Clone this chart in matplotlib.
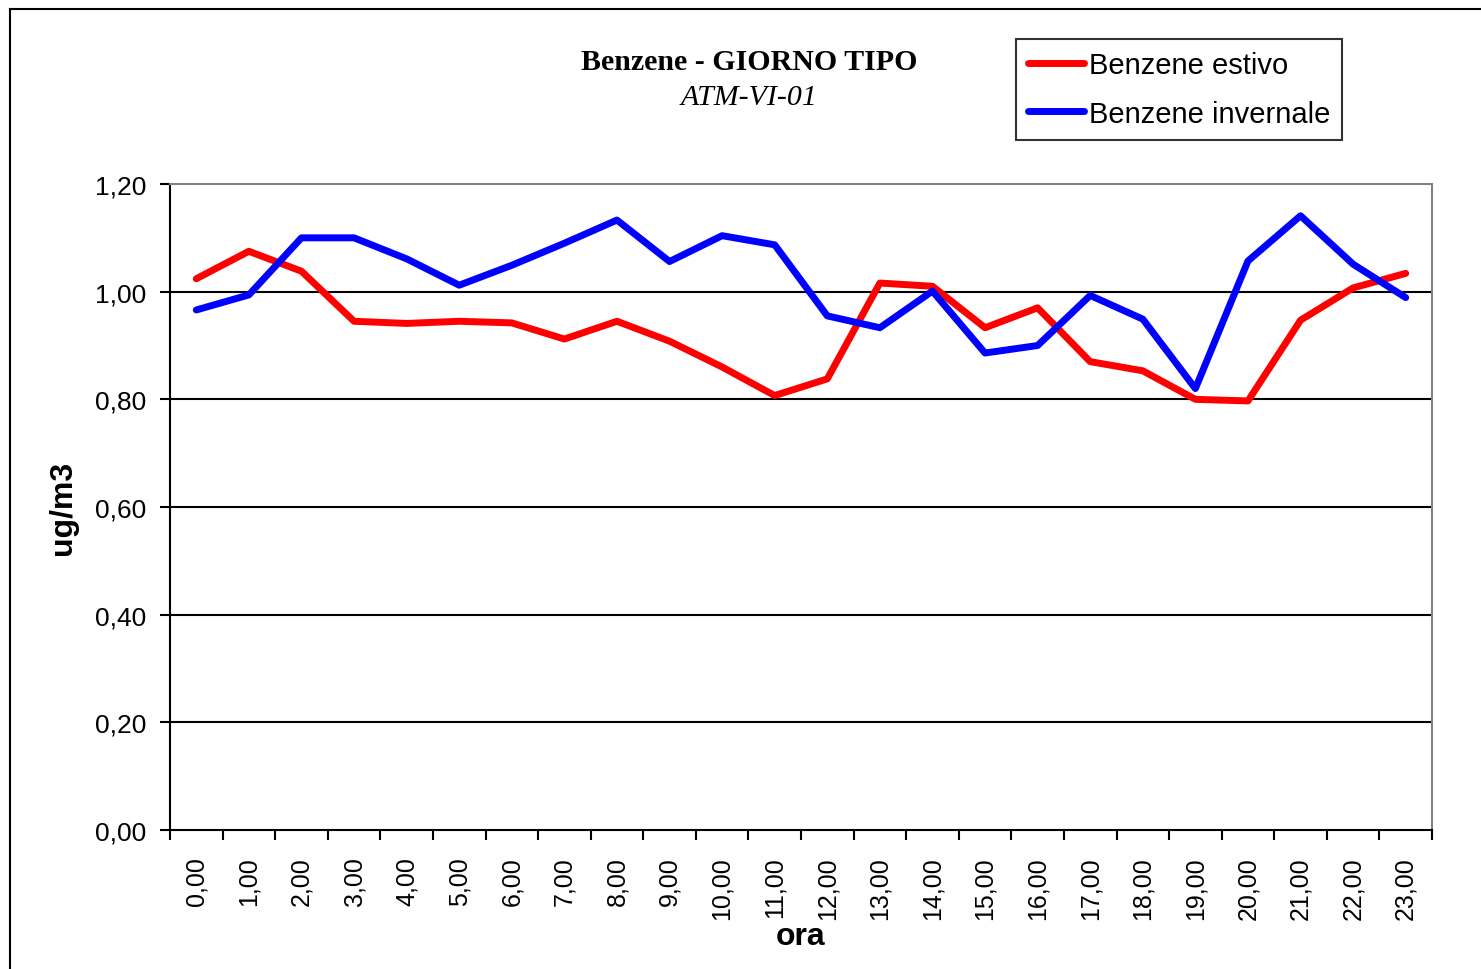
import matplotlib.pyplot as plt
from matplotlib.lines import Line2D
import numpy as np

# ore del giorno tipo
hours = list(range(24))
hour_labels = [f"{h},00" for h in hours]

benzene_estivo = [1.024, 1.075, 1.038, 0.945, 0.941, 0.945, 0.942, 0.912, 0.945, 0.908,
                  0.860, 0.807, 0.838, 1.016, 1.010, 0.933, 0.970, 0.870, 0.853, 0.800,
                  0.797, 0.947, 1.007, 1.034]
benzene_invernale = [0.966, 0.994, 1.100, 1.100, 1.061, 1.012, 1.049, 1.090, 1.133, 1.056,
                     1.104, 1.087, 0.955, 0.933, 1.001, 0.886, 0.900, 0.993, 0.949, 0.820,
                     1.057, 1.141, 1.051, 0.989]

y_ticks = [0.0, 0.2, 0.4, 0.6, 0.8, 1.0, 1.2]

plt.rcParams['font.family'] = ['Liberation Sans', 'DejaVu Sans']

fig = plt.figure(figsize=(14.81, 9.70), dpi=100)
ax = fig.add_axes([170 / 1481, 1 - 831 / 970, (1432 - 170) / 1481, (831 - 185) / 970])

x = np.arange(len(hours))
ax.plot(x, benzene_estivo, color='#ff0000', lw=5, label='Benzene estivo', solid_capstyle='round')
ax.plot(x, benzene_invernale, color='#0000ff', lw=5, label='Benzene invernale', solid_capstyle='round')

ax.set_xlim(-0.5, 23.5)
ax.set_ylim(0, 1.2)
ax.set_yticks(y_ticks)
ax.set_yticklabels([f"{v:.2f}".replace('.', ',') for v in y_ticks], fontsize=19)
ax.set_xticks(x)
ax.set_xticklabels(hour_labels, rotation=90, fontsize=18)
ax.set_xticks(np.arange(-0.5, 24, 1), minor=True)
ax.tick_params(axis='x', which='major', length=0, pad=19)
ax.tick_params(axis='x', which='minor', length=7, width=1.5, direction='out')
ax.tick_params(axis='y', length=7, width=1.5, direction='out', pad=10)

for v in y_ticks[1:-1]:
    ax.axhline(v, color='black', lw=1.5, zorder=1)

ax.spines['left'].set_linewidth(1.5)
ax.spines['bottom'].set_linewidth(1.5)
ax.spines['top'].set_color('#808080')
ax.spines['right'].set_color('#808080')
ax.spines['top'].set_linewidth(1.5)
ax.spines['right'].set_linewidth(1.5)

ax.set_xlabel('ora', fontsize=23, fontweight='bold', labelpad=1)
ax.set_ylabel('ug/m3', fontsize=23, fontweight='bold', labelpad=12)

fig.text(749 / 1481, 1 - 63 / 970, 'Benzene - GIORNO TIPO', ha='center', va='center',
         fontsize=21.5, fontweight='bold', family='Liberation Serif')
fig.text(749 / 1481, 1 - 98 / 970, 'ATM-VI-01', ha='center', va='center',
         fontsize=21.5, style='italic', family='Liberation Serif')

leg = fig.legend(loc='upper left', bbox_to_anchor=(1016 / 1481, 1 - 40 / 970),
                 fontsize=21, frameon=True, fancybox=False, handlelength=1.9,
                 handletextpad=0.17, labelspacing=0.7, borderpad=0.42, borderaxespad=0)
leg.get_frame().set_edgecolor('black')
leg.get_frame().set_linewidth(1.5)

# bordo esterno del grafico
fig.add_artist(Line2D([10 / 1481, 10 / 1481], [0, 1 - 10 / 970], color='black', lw=1.5))
fig.add_artist(Line2D([10 / 1481, 1], [1 - 10 / 970, 1 - 10 / 970], color='black', lw=1.5))

fig.savefig('out.png', dpi=100)
